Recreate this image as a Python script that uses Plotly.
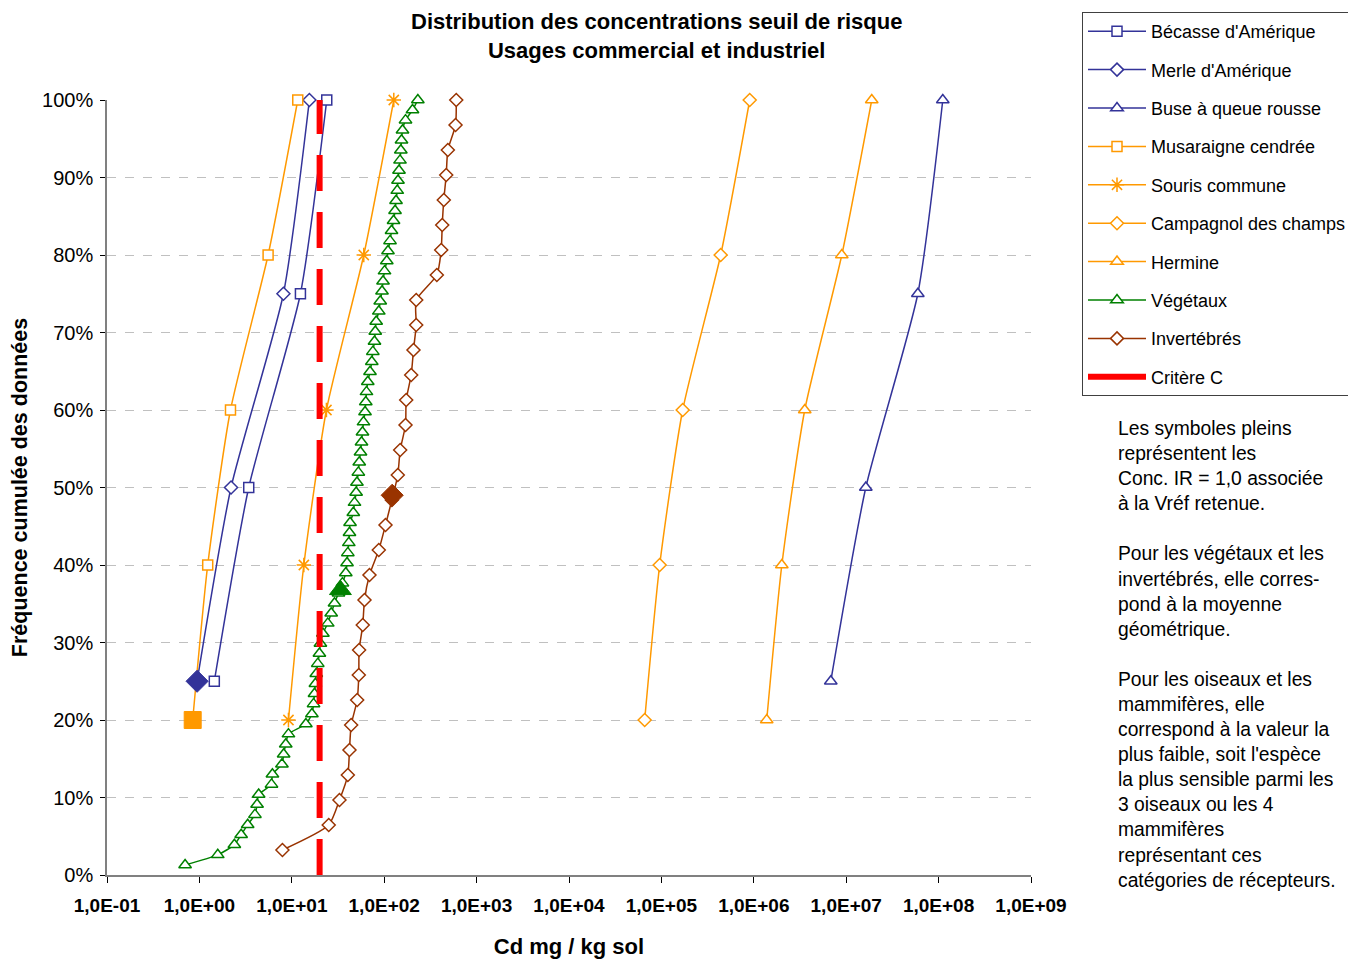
import plotly.graph_objects as go

# ---------------- data ----------------
becasse_x = [1.45, 3.42, 12.4, 23.9]
becasse_y = [25, 50, 75, 100]
merle_x = [0.944, 2.20, 8.12, 15.5]
merle_y = [25, 50, 75, 100]
buse_x = [6.81e6, 1.63e7, 5.96e7, 1.11e8]
buse_y = [25, 50, 75, 100]
musaraigne_x = [0.846, 1.23, 2.17, 5.54, 11.6]
musaraigne_y = [20, 40, 60, 80, 100]
souris_x = [9.20, 13.5, 23.7, 60.1, 127]
souris_y = [20, 40, 60, 80, 100]
campagnol_x = [65900, 95800, 170000, 438000, 903000]
campagnol_y = [20, 40, 60, 80, 100]
hermine_x = [1.38e6, 2.01e6, 3.56e6, 8.96e6, 1.89e7]
hermine_y = [20, 40, 60, 80, 100]

vegetaux_x = [0.70, 1.58, 2.39, 2.83, 3.33, 3.99, 4.21, 4.38, 6.03, 6.17,
              7.82, 8.16, 8.60, 9.20, 14.2, 16.5, 17.2, 17.6, 18.0, 18.4,
              19.1, 19.9, 20.4, 21.7, 24.5, 26.7, 29.0, 32.0, 35.3, 38.4,
              39.6, 40.4, 41.4, 42.1, 42.7, 46.3, 47.7, 49.7, 50.7, 52.5,
              53.7, 55.4, 56.8, 58.2, 59.7, 62.0, 63.2, 64.3, 66.4, 70.2,
              73.4, 75.3, 78.5, 80.0, 81.9, 87.4, 90.6, 94.7, 97.1, 100.8,
              106.7, 109.9, 115.6, 120.0, 126.2, 131.0, 134.3, 138.4, 141.0, 144.6,
              148.3, 151.3, 153.9, 157.8, 170.1, 202.5, 231.3]
vegetaux_y = [1.30, 2.60, 3.90, 5.19, 6.49, 7.79, 9.09, 10.39, 11.69, 12.99,
              14.29, 15.58, 16.88, 18.18, 19.48, 20.78, 22.08, 23.38, 24.68, 25.97,
              27.27, 28.57, 29.87, 31.17, 32.47, 33.77, 35.06, 36.36, 37.66, 38.96,
              40.26, 41.56, 42.86, 44.16, 45.45, 46.75, 48.05, 49.35, 50.65, 51.95,
              53.25, 54.55, 55.84, 57.14, 58.44, 59.74, 61.04, 62.34, 63.64, 64.94,
              66.23, 67.53, 68.83, 70.13, 71.43, 72.73, 74.03, 75.32, 76.62, 77.92,
              79.22, 80.52, 81.82, 83.12, 84.42, 85.71, 87.01, 88.31, 89.61, 90.91,
              92.21, 93.51, 94.81, 96.10, 97.40, 98.70, 100.0]

invert_x = [7.92, 25.1, 32.8, 40.4, 42.1, 43.9, 51.0, 53.1, 53.5, 58.6,
            61.2, 69.3, 87.4, 103.3, 121, 140.3, 148.9, 170.1, 173.0, 196.0,
            207.5, 222.1, 222.1, 371.3, 414.0, 424.6, 441.6, 469.1, 488.5, 591.6,
            602.3]
invert_y = [3.23, 6.45, 9.68, 12.90, 16.13, 19.35, 22.58, 25.81, 29.03, 32.26,
            35.48, 38.71, 41.94, 45.16, 48.39, 51.61, 54.84, 58.06, 61.29, 64.52,
            67.74, 70.97, 74.19, 77.42, 80.65, 83.87, 87.10, 90.32, 93.55, 96.77,
            100.0]

critere_x = [20, 20]
critere_y = [0, 100]

# filled symbols: Conc. IR = 1,0 associated with retained reference value
filled_merle = ([0.944], [25])
filled_musaraigne = ([0.846], [20])
filled_vegetaux = ([33.6], [36.8])
filled_invert = ([122], [49.0])

x_tickvals = [1e-1, 1e0, 1e1, 1e2, 1e3, 1e4, 1e5, 1e6, 1e7, 1e8, 1e9]
x_ticktext = ["1,0E-01", "1,0E+00", "1,0E+01", "1,0E+02", "1,0E+03", "1,0E+04",
              "1,0E+05", "1,0E+06", "1,0E+07", "1,0E+08", "1,0E+09"]
y_tickvals = [0, 10, 20, 30, 40, 50, 60, 70, 80, 90, 100]
y_ticktext = ["0%", "10%", "20%", "30%", "40%", "50%", "60%", "70%", "80%", "90%", "100%"]

BLUE = "#333399"
ORANGE = "#FF9900"
GREEN = "#008000"
BROWN = "#993300"
RED = "#FF0000"
FONT = "Liberation Sans, Arial, sans-serif"

fig = go.Figure()

def add_series(name, xs, ys, color, symbol, size=10, lw=1.5, open_symbol=False):
    if open_symbol:
        marker = dict(symbol=symbol, size=size, color=color, line=dict(color=color, width=1.5))
    else:
        marker = dict(symbol=symbol, size=size, color="white", line=dict(color=color, width=1.5))
    fig.add_trace(go.Scatter(
        x=xs, y=ys, name=name, legendgroup=name, mode="lines+markers",
        line=dict(color=color, width=lw, shape="spline", smoothing=0.6),
        marker=marker, cliponaxis=False,
    ))

add_series("Bécasse d'Amérique", becasse_x, becasse_y, BLUE, "square", 10)
add_series("Merle d'Amérique", merle_x, merle_y, BLUE, "diamond", 10)
add_series("Buse à queue rousse", buse_x, buse_y, BLUE, "triangle-up", 11)
add_series("Musaraigne cendrée", musaraigne_x, musaraigne_y, ORANGE, "square", 10)
add_series("Souris commune", souris_x, souris_y, ORANGE, "asterisk-open", 12, open_symbol=True)
add_series("Campagnol des champs", campagnol_x, campagnol_y, ORANGE, "diamond", 10)
add_series("Hermine", hermine_x, hermine_y, ORANGE, "triangle-up", 11)
add_series("Végétaux", vegetaux_x, vegetaux_y, GREEN, "triangle-up", 11)
add_series("Invertébrés", invert_x, invert_y, BROWN, "diamond", 10)

# Critère C: dashed line on the chart, solid swatch in the legend
fig.add_trace(go.Scatter(
    x=critere_x, y=critere_y, name="Critère C", showlegend=False,
    mode="lines", line=dict(color=RED, width=6, dash="36px,21px"),
))
fig.add_trace(go.Scatter(
    x=[None], y=[None], name="Critère C", legendgroup="Critère C",
    mode="lines", line=dict(color=RED, width=6),
))

def add_filled(xy, color, symbol, size):
    fig.add_trace(go.Scatter(
        x=xy[0], y=xy[1], mode="markers", showlegend=False, cliponaxis=False,
        marker=dict(symbol=symbol, size=size, color=color,
                    line=dict(color=color, width=1)),
    ))

add_filled(filled_merle, BLUE, "diamond", 17)
add_filled(filled_musaraigne, ORANGE, "square", 17)
add_filled(filled_vegetaux, GREEN, "triangle-up", 19)
add_filled(filled_invert, BROWN, "diamond", 17)

fig.update_xaxes(
    type="log", range=[-1, 9], tickvals=x_tickvals, ticktext=x_ticktext,
    tickfont=dict(family=FONT, size=19, color="black", weight="bold"),
    ticklabelstandoff=6, automargin=False,
    showgrid=False, showline=True, linecolor="#808080", linewidth=1.5,
    ticks="outside", ticklen=6, tickcolor="black", zeroline=False,
    title=dict(text="Cd mg / kg sol", font=dict(family=FONT, size=22, color="black", weight="bold"),
               standoff=26),
)
fig.update_yaxes(
    range=[0, 100], tickvals=y_tickvals, ticktext=y_ticktext,
    tickfont=dict(family=FONT, size=20, color="black"), automargin=False,
    ticklabelstandoff=3,
    showgrid=True, gridcolor="#C0C0C0", griddash="dash", gridwidth=1,
    showline=True, linecolor="#808080", linewidth=1.5,
    ticks="outside", ticklen=5, tickcolor="black", zeroline=False,
    title=dict(text="Fréquence cumulée des données",
               font=dict(family=FONT, size=21.5, color="black", weight="bold"), standoff=9),
)

note = ("Les symboles pleins<br>représentent les<br>Conc. IR = 1,0 associée<br>"
        "à la Vréf retenue.<br><br>Pour les végétaux et les<br>invertébrés, elle corres-<br>"
        "pond à la moyenne<br>géométrique.<br><br>Pour les oiseaux et les<br>mammifères, elle<br>"
        "correspond à la valeur la<br>plus faible, soit l'espèce<br>la plus sensible parmi les<br>"
        "3 oiseaux ou les 4<br>mammifères<br>représentant ces<br>catégories de récepteurs.")

fig.update_layout(
    width=1348, height=959,
    margin=dict(l=107, r=317, t=100, b=84, autoexpand=False),
    paper_bgcolor="white", plot_bgcolor="white",
    font=dict(family=FONT, color="black"),
    showlegend=True,
    legend=dict(
        xref="container", yref="container",
        x=1082 / 1348, y=1 - 12 / 959, xanchor="left", yanchor="top",
        bgcolor="white", bordercolor="#404040", borderwidth=1,
        font=dict(family=FONT, size=18, color="black"),
        traceorder="grouped", tracegroupgap=12, itemwidth=58,
    ),
    annotations=[
        dict(text="<b>Distribution des concentrations seuil de risque<br>Usages commercial et industriel</b>",
             xref="paper", yref="paper", x=0.595, y=1.083, xanchor="center", yanchor="middle",
             showarrow=False, font=dict(family=FONT, size=22, color="black")),
        dict(text=note, xref="paper", yref="paper", x=1.0925, y=0.592,
             xanchor="left", yanchor="top", align="left", showarrow=False,
             font=dict(family=FONT, size=19.3, color="black")),
    ],
)

fig.write_html("out.html")
